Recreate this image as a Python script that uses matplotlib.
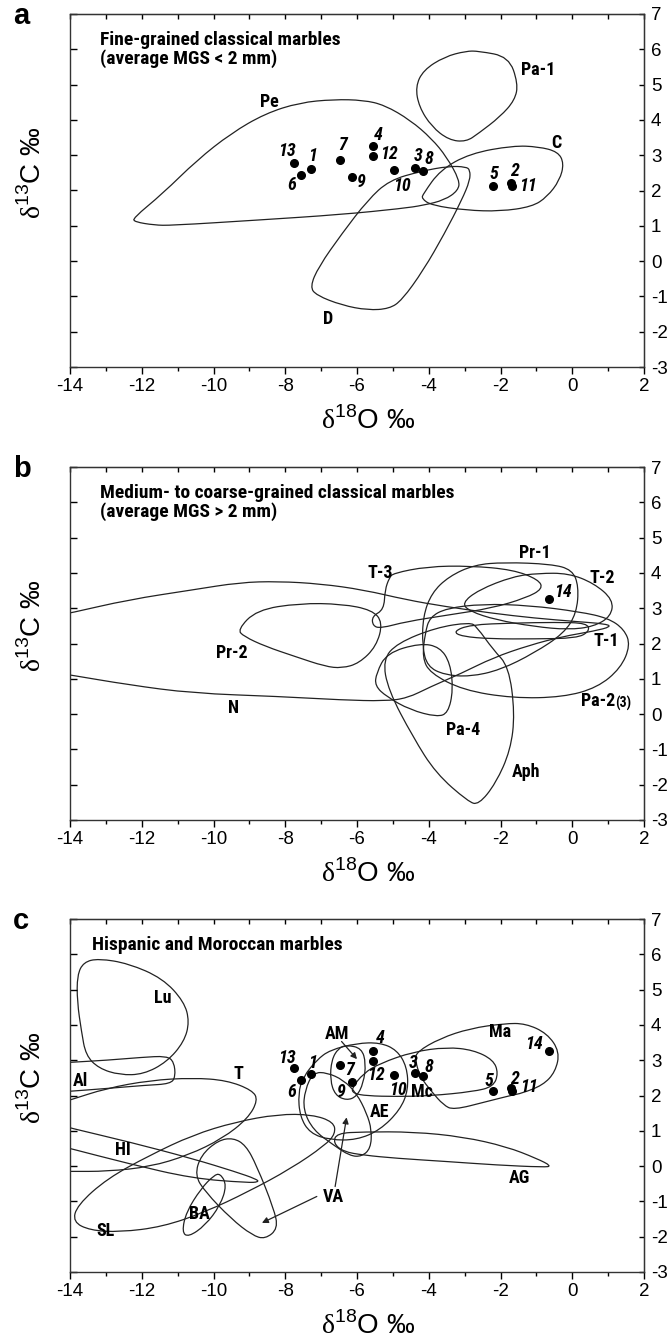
import matplotlib
matplotlib.use("Agg")
import matplotlib.pyplot as plt
from matplotlib import font_manager
from matplotlib.path import Path
from matplotlib.patches import PathPatch

plt.rcParams["font.family"] = ["Liberation Sans", "DejaVu Sans"]
plt.rcParams["mathtext.fontset"] = "custom"
plt.rcParams["mathtext.rm"] = "Liberation Sans"
plt.rcParams["mathtext.sf"] = "Liberation Serif"
plt.rcParams["axes.unicode_minus"] = False

installed = {f.name for f in font_manager.fontManager.ttflist}
narrow_choices = ["Liberation Sans Narrow", "Arial Narrow", "Roboto Condensed", "Noto Sans Condensed",
                  "Open Sans Condensed", "DejaVu Sans Condensed"]
NARROW = [n for n in narrow_choices if n in installed] + ["Liberation Sans", "DejaVu Sans"]

# sample data (delta18O, delta13C)
sample_ids = ["1", "2", "3", "4", "5", "6", "7", "8", "9", "10", "11", "12", "13", "14"]
d18o = [-7.29, -1.71, -4.37, -5.55, -2.2, -7.55, -6.46, -4.17, -6.15, -4.96, -1.67, -5.55, -7.76, -0.65]
d13c = [2.62, 2.22, 2.64, 3.26, 2.12, 2.44, 2.85, 2.56, 2.37, 2.59, 2.13, 2.97, 2.79, 3.27]

# isotopic fields, panel a
PE = [(-12.25, 1.21), (-11.42, 1.91), (-10.46, 2.86), (-9.51, 3.62), (-8.56, 4.18), (-7.6, 4.49),
      (-6.65, 4.58), (-5.82, 4.56), (-5.23, 4.42), (-4.51, 3.99), (-3.92, 3.47), (-3.5, 2.95),
      (-3.14, 2.29), (-3.18, 2.0), (-3.56, 1.73), (-4.15, 1.58), (-4.75, 1.49), (-6.42, 1.32),
      (-8.8, 1.16), (-11.18, 1.01), (-11.65, 1.02), (-12.19, 1.11)]
PA1 = [(-2.61, 5.95), (-1.77, 5.79), (-1.51, 5.03), (-1.6, 4.56), (-2.01, 4.09), (-2.61, 3.62),
       (-2.96, 3.38), (-3.44, 3.43), (-3.92, 3.81), (-4.27, 4.37), (-4.37, 4.94), (-4.15, 5.41),
       (-3.56, 5.79), (-2.96, 5.95)]
C = [(-4.15, 1.91), (-3.68, 2.58), (-2.85, 3.05), (-1.65, 3.27), (-0.94, 3.24), (-0.4, 3.1),
     (-0.23, 2.77), (-0.35, 2.29), (-0.7, 1.82), (-1.12, 1.54), (-2.01, 1.41), (-2.96, 1.44),
     (-3.92, 1.58), (-4.2, 1.77)]
D = [(-2.85, 2.58), (-2.96, 2.67), (-3.44, 2.69), (-4.2, 2.55), (-5.1, 2.29), (-5.7, 1.73),
     (-6.42, 0.78), (-7.07, -0.16), (-7.31, -0.73), (-7.13, -0.97), (-6.42, -1.25), (-5.7, -1.39),
     (-5.1, -1.35), (-4.75, -1.11), (-4.15, -0.26), (-3.56, 0.78), (-3.08, 1.73), (-2.85, 2.29)]

# panel b
N = [(-14.6, 2.75), (-14, 2.86), (-12.37, 3.24), (-10.58, 3.52), (-9.27, 3.73), (-8.2, 3.76),
     (-7.01, 3.69), (-5.82, 3.52), (-4.63, 3.24), (-3.56, 3.05), (-2.25, 2.86), (-1.06, 2.72),
     (0.13, 2.62), (0.9, 2.56), (1.1, 2.48), (0.6, 2.35), (-0.26, 2.2), (-1.2, 1.95), (-2.2, 1.6),
     (-3.1, 1.15), (-3.96, 0.77), (-4.6, 0.45), (-5.23, 0.37), (-6.42, 0.4), (-8.2, 0.5),
     (-10.58, 0.59), (-12.37, 0.83), (-14, 1.11), (-14.6, 1.2)]
PR2 = [(-9.33, 2.39), (-8.8, 2.95), (-7.6, 3.14), (-6.42, 3.12), (-5.58, 2.95), (-5.28, 2.6),
       (-5.46, 1.92), (-5.94, 1.44), (-6.42, 1.3), (-6.89, 1.35), (-7.72, 1.63), (-8.56, 1.92),
       (-9.15, 2.2)]
T3 = [(-5.1, 3.86), (-4.99, 3.99), (-4.04, 4.18), (-2.85, 4.2), (-1.65, 4.09), (-0.94, 3.81),
      (-0.82, 3.55), (-1.29, 3.29), (-2.25, 3.0), (-3.44, 2.81), (-4.63, 2.62), (-5.34, 2.43),
      (-5.56, 2.5), (-5.58, 2.77), (-5.25, 2.96), (-5.22, 3.52)]
PR1 = [(-1.89, 4.3), (-0.59, 4.25), (0.0, 4.09), (0.18, 3.62), (0.12, 2.86), (-0.23, 2.29),
       (-1.06, 1.73), (-2.01, 1.25), (-2.85, 1.06), (-3.56, 1.11), (-4.04, 1.35), (-4.18, 1.92),
       (-4.16, 2.77), (-3.92, 3.43), (-3.44, 3.9), (-2.73, 4.23)]
T2 = [(-3.08, 3.14), (-2.61, 3.52), (-1.65, 3.9), (-0.94, 3.99), (-0.11, 3.99), (0.6, 3.71),
      (1.14, 3.24), (1.08, 2.77), (0.6, 2.48), (-0.11, 2.39), (-1.06, 2.48), (-2.13, 2.67),
      (-2.85, 2.91)]
T1 = [(-3.32, 2.34), (-2.85, 2.53), (-1.65, 2.58), (-0.47, 2.6), (0.42, 2.58), (0.48, 2.34),
      (0.12, 2.15), (-1.06, 2.13), (-2.25, 2.13), (-3.08, 2.2)]
PA23 = [(-4.1, 2.3), (-3.97, 2.75), (-3.5, 3.0), (-2.5, 3.12), (-1.2, 3.08), (0.2, 2.9),
        (1.0, 2.72), (1.45, 2.4), (1.62, 1.95), (1.35, 1.3), (0.7, 0.75), (-0.26, 0.48),
        (-1.65, 0.45), (-3.05, 0.68), (-3.96, 1.16), (-4.18, 1.6)]
PA4 = [(-5.46, 1.16), (-5.17, 1.73), (-4.24, 2.01), (-3.69, 1.9), (-3.4, 1.44), (-3.32, 0.68),
       (-3.46, 0.03), (-3.77, -0.08), (-4.52, 0.12), (-5.17, 0.49), (-5.5, 0.8)]
APH = [(-2.85, 2.6), (-2.66, 2.47), (-2.2, 1.82), (-1.77, 1.35), (-1.6, 0.02), (-1.72, -1.02),
       (-2.13, -1.96), (-2.61, -2.57), (-2.9, -2.48), (-3.8, -1.68), (-4.44, -0.65), (-5.13, 0.68),
       (-5.28, 1.54), (-4.88, 2.01), (-3.8, 2.45)]

# panel c
LU = [(-13.2, 5.88), (-12.37, 5.74), (-11.42, 5.32), (-10.82, 4.66), (-10.67, 4.09), (-10.82, 3.52),
      (-11.3, 2.95), (-11.95, 2.6), (-12.61, 2.58), (-13.2, 2.77), (-13.56, 3.14), (-13.68, 3.81),
      (-13.8, 4.66), (-13.8, 5.41), (-13.62, 5.78)]
AL = [(-14.6, 2.9), (-14, 2.94), (-12.96, 3.0), (-12.01, 3.08), (-11.3, 3.12), (-11.1, 2.95),
      (-11.06, 2.53), (-11.2, 2.33), (-11.89, 2.29), (-12.96, 2.2), (-14, 2.12), (-14.6, 2.08)]
T = [(-14.6, 1.7), (-14, 1.87), (-13, 2.2), (-11.77, 2.43), (-10.58, 2.5), (-9.63, 2.43),
     (-8.92, 2.15), (-8.76, 1.87), (-9.04, 1.35), (-9.75, 0.78), (-10.7, 0.31), (-11.77, -0.02),
     (-12.96, -0.15), (-14, -0.15), (-14.6, -0.15)]
HI = [(-14.6, 1.25), (-14, 1.08), (-12.37, 0.69), (-10.58, 0.21), (-9.39, -0.16), (-8.8, -0.37),
      (-8.74, -0.45), (-9.04, -0.47), (-10.58, -0.35), (-12.37, 0.07), (-14, 0.5), (-14.6, 0.65)]
SL = [(-13.92, -1.58), (-13.8, -1.11), (-12.96, -0.35), (-11.77, 0.31), (-10.58, 0.88), (-9.39, 1.25),
      (-8.2, 1.47), (-7.25, 1.46), (-6.65, 1.25), (-6.6, 0.92), (-6.89, 0.59), (-7.84, -0.07),
      (-9.04, -0.73), (-10.23, -1.3), (-11.42, -1.72), (-12.61, -1.87), (-13.44, -1.82)]
BA = [(-9.81, -0.21), (-9.63, -0.54), (-9.81, -1.11), (-10.23, -1.68), (-10.7, -2.01), (-10.88, -1.87),
      (-10.76, -1.3), (-10.35, -0.64), (-9.99, -0.26)]
VA1 = [(-9.45, 0.8), (-9.1, 0.59), (-8.8, 0.02), (-8.32, -1.2), (-8.2, -1.77), (-8.56, -2.07),
       (-8.92, -1.96), (-9.51, -1.49), (-10.23, -0.73), (-10.52, -0.26), (-10.35, 0.31), (-9.87, 0.73)]
VA2 = [(-7.22, 2.65), (-7.45, 2.16), (-7.5, 1.59), (-7.22, 1.02), (-6.66, 0.6), (-6.2, 0.29),
       (-5.87, 0.27), (-5.62, 0.5), (-5.59, 1.02), (-5.73, 1.5), (-6.01, 2.06), (-6.38, 2.44),
       (-6.84, 2.65)]
AM = [(-6.29, 3.43), (-5.87, 3.34), (-5.75, 2.91), (-5.82, 2.35), (-6.01, 1.97), (-6.29, 1.86),
      (-6.61, 2.01), (-6.75, 2.44), (-6.71, 3.01), (-6.52, 3.34)]
AE = [(-6.75, 3.29), (-6.01, 3.48), (-5.36, 3.5), (-4.89, 3.29), (-4.61, 2.82), (-4.57, 2.16),
      (-4.8, 1.59), (-5.36, 1.02), (-6.01, 0.74), (-6.75, 0.74), (-7.31, 0.93), (-7.59, 1.4),
      (-7.64, 2.06), (-7.5, 2.53), (-7.12, 3.01)]
MC = [(-6.15, 2.2), (-5.82, 2.63), (-5.36, 2.91), (-4.43, 3.24), (-3.5, 3.37), (-2.76, 3.29),
      (-2.2, 3.01), (-2.06, 2.63), (-2.2, 2.25), (-2.76, 2.11), (-3.96, 1.99), (-4.89, 1.97),
      (-5.73, 1.99), (-6.1, 2.06)]
MA = [(-4.33, 3.24), (-3.68, 3.62), (-2.85, 3.9), (-1.89, 4.04), (-1.3, 4.04), (-0.7, 3.76),
      (-0.35, 3.24), (-0.47, 2.67), (-0.82, 2.29), (-1.42, 2.06), (-1.64, 2.02), (-2.38, 1.83),
      (-3.31, 1.59), (-3.59, 1.73), (-3.92, 2.11), (-4.24, 2.53), (-4.38, 3.01)]
AG = [(-6.57, 0.93), (-5.82, 0.97), (-4.43, 0.97), (-3.04, 0.83), (-1.83, 0.55), (-1.0, 0.22),
      (-0.57, 0.0), (-0.8, -0.03), (-2.1, 0.03), (-3.5, 0.13), (-4.89, 0.22), (-5.82, 0.31),
      (-6.38, 0.41), (-6.66, 0.65)]

# field label placement (x, y) per panel
labels_a = {"Pe": (-8.45, 4.5), "Pa-1": (-0.95, 5.4), "C": (-0.45, 3.35), "D": (-6.8, -1.63)}
labels_b = {"Pr-1": (-1.05, 4.55), "T-3": (-5.35, 4.0), "T-2": (0.85, 3.85), "T-1": (0.95, 2.06),
            "Pr-2": (-9.5, 1.73), "N": (-9.45, 0.17), "Pa-4": (-3.05, -0.45), "Aph": (-1.3, -1.63)}
labels_c = {"Lu": (-11.42, 4.77), "Al": (-13.7, 2.41), "T": (-9.3, 2.62), "HI": (-12.52, 0.45),
            "SL": (-13.0, -1.85), "BA": (-10.4, -1.35), "VA": (-6.65, -0.87), "AM": (-6.57, 3.73),
            "AE": (-5.37, 1.54), "Mc": (-4.19, 2.1), "Ma": (-2.01, 3.79), "AG": (-1.48, -0.35)}
num_pos_a = {"13": (-7.94, 3.12), "1": (-7.24, 2.99), "6": (-7.81, 2.15), "7": (-6.4, 3.3),
             "9": (-5.88, 2.25), "4": (-5.4, 3.57), "12": (-5.1, 3.03), "10": (-4.75, 2.13),
             "3": (-4.3, 2.98), "8": (-4.0, 2.88), "5": (-2.18, 2.48), "2": (-1.6, 2.55),
             "11": (-1.24, 2.12)}
num_pos_b = {"14": (-0.25, 3.47)}
num_pos_c = {"13": (-7.94, 3.07), "1": (-7.24, 2.91), "6": (-7.81, 2.1), "7": (-6.2, 2.72),
             "9": (-6.45, 2.1), "4": (-5.35, 3.62), "12": (-5.46, 2.58), "10": (-4.87, 2.15),
             "3": (-4.44, 2.91), "8": (-4.0, 2.81), "5": (-2.31, 2.41), "2": (-1.6, 2.48),
             "11": (-1.2, 2.25), "14": (-1.06, 3.45)}


def closed_path(pts):
    n = len(pts)
    mid = lambda p, q: ((p[0] + q[0]) / 2, (p[1] + q[1]) / 2)
    verts = [mid(pts[-1], pts[0])]
    codes = [Path.MOVETO]
    for i in range(n):
        verts += [pts[i], mid(pts[i], pts[(i + 1) % n])]
        codes += [Path.CURVE3, Path.CURVE3]
    return Path(verts, codes)


def draw_field(ax, pts):
    ax.add_patch(PathPatch(closed_path(pts), facecolor="none", edgecolor="#222222", lw=0.9))


def setup(ax):
    ax.set_xlim(-14, 2)
    ax.set_ylim(-3, 7)
    ax.set_xticks(range(-14, 3, 2))
    ax.set_xticks(range(-13, 2, 2), minor=True)
    ax.set_yticks(range(-3, 8))
    ax.set_yticklabels([])
    ax.tick_params(axis="x", which="major", direction="out", length=5, width=1, labelsize=13.5, pad=3)
    ax.tick_params(axis="x", which="minor", direction="out", length=3, width=1)
    ax.tick_params(axis="y", direction="in", length=5, width=1)
    for s in ax.spines.values():
        s.set_linewidth(1.0)
        s.set_color("#333333")
    top = ax.secondary_xaxis("top")
    top.set_xticks(range(-14, 3, 1))
    top.tick_params(direction="in", length=3.5, width=1, labeltop=False)
    right = ax.secondary_yaxis("right")
    right.set_yticks(range(-3, 8))
    right.tick_params(direction="in", length=3.5, width=1, labelsize=13.5, pad=5)
    ax.text(0.52, -0.176, r"$\mathsf{δ}^{18}$O ‰", transform=ax.transAxes, ha="center", va="baseline",
            fontsize=20)
    ax.text(-0.065, 0.55, r"$\mathsf{δ}^{13}$C ‰", transform=ax.transAxes, ha="center", va="center",
            fontsize=20, rotation=90, rotation_mode="anchor")


def put_labels(ax, labels):
    for name, (x, y) in labels.items():
        ax.text(x, y, name, ha="center", va="center", fontsize=13, fontweight="bold", family=NARROW)


def put_numbers(ax, pos):
    for name, (x, y) in pos.items():
        ax.text(x, y, name, ha="center", va="center", fontsize=13, fontweight="bold",
                fontstyle="italic", family=NARROW)


fig = plt.figure(figsize=(6.7, 13.41), dpi=100)
W, H = 670, 1341
tops = [14, 467, 919]
axes = []
for t in tops:
    ax = fig.add_axes([70 / W, 1 - (t + 353) / H, 574 / W, 353 / H])
    setup(ax)
    axes.append(ax)
ax_a, ax_b, ax_c = axes

for letter, t in zip("abc", tops):
    fig.text(13 / W, 1 - (t + 10) / H, letter, fontsize=21, fontweight="bold", va="baseline")

title_kw = dict(ha="left", va="top", fontsize=14, fontweight="bold", family=NARROW, linespacing=1.05)

# panel a
for f in [PE, PA1, C, D]:
    draw_field(ax_a, f)
ax_a.plot(d18o[:13], d13c[:13], "o", color="black", ms=5.5)
put_labels(ax_a, labels_a)
put_numbers(ax_a, num_pos_a)
ax_a.text(-13.16, 6.53, "Fine-grained classical marbles\n(average MGS < 2 mm)", **title_kw)

# panel b
for f in [N, PR2, T3, PR1, T2, T1, PA23, PA4, APH]:
    draw_field(ax_b, f)
ax_b.plot(d18o[13:], d13c[13:], "o", color="black", ms=5.5)
put_labels(ax_b, labels_b)
put_numbers(ax_b, num_pos_b)
ax_b.text(1.2, 0.36, "Pa-2", ha="right", va="center", fontsize=13, fontweight="bold", family=NARROW)
ax_b.text(1.2, 0.3, "(3)", ha="left", va="center", fontsize=10, fontweight="bold", family=NARROW)
ax_b.text(-13.16, 6.53, "Medium- to coarse-grained classical marbles\n(average MGS > 2 mm)", **title_kw)

# panel c
for f in [LU, AL, T, HI, SL, BA, VA1, VA2, AM, AE, MC, MA, AG]:
    draw_field(ax_c, f)
ax_c.plot(d18o, d13c, "o", color="black", ms=5.5)
put_labels(ax_c, labels_c)
put_numbers(ax_c, num_pos_c)
ax_c.text(-13.4, 6.53, "Hispanic and Moroccan marbles", **title_kw)
arrow = dict(arrowstyle="-|>", lw=0.9, color="#222222", mutation_scale=9, shrinkA=0, shrinkB=0)
ax_c.annotate("", xy=(-8.65, -1.61), xytext=(-7.12, -0.86), arrowprops=arrow)
ax_c.annotate("", xy=(-6.29, 1.38), xytext=(-6.61, -0.58), arrowprops=arrow)
ax_c.annotate("", xy=(-6.0, 3.03), xytext=(-6.43, 3.53), arrowprops=arrow)

fig.savefig("out.png", dpi=100)
